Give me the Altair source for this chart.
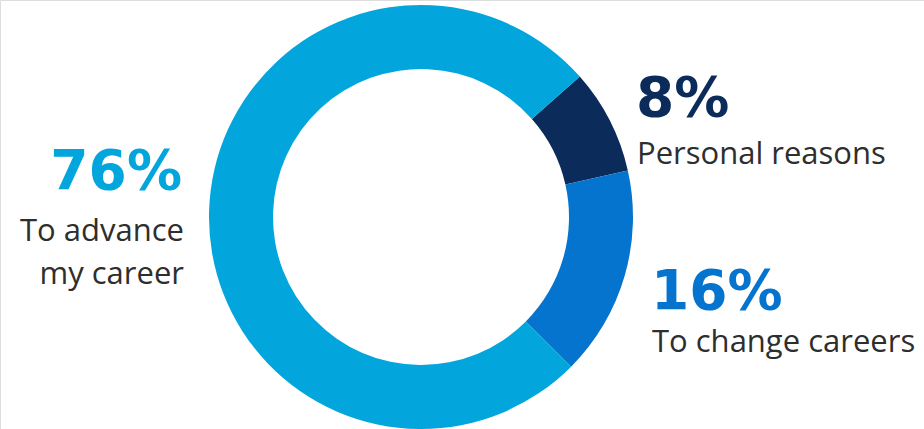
import altair as alt
import pandas as pd
import math

# ---- data ----
categories = ["Personal reasons", "To change careers", "To advance my career"]
values = [8, 16, 76]
pct_labels = ["8%", "16%", "76%"]
desc_labels = ["Personal reasons", "To change careers", "To advance\nmy career"]
colors = ["#0B2B5B", "#0574CE", "#02A6DD"]

# ---- layout (positions/styles, not data) ----
W, H = 924, 429
CX, CY = 421, 217
R_OUT, R_IN = 212, 148
START = math.radians(48.5)
pct_pos = [(636, 116, "left"), (651, 309, "left"), (182, 189, "right")]
desc_pos = [(637, 164, "left"), (652, 352, "left"), (184, 241, "right")]

df = pd.DataFrame({"category": categories, "value": values, "order": [0, 1, 2]})

ring = alt.Chart(df).mark_arc(
    outerRadius=R_OUT, innerRadius=R_IN, stroke=None
).encode(
    theta=alt.Theta("value:Q", stack=True,
                    scale=alt.Scale(range=[START, START + 2 * math.pi])),
    order=alt.Order("order:Q"),
    color=alt.Color("category:N",
                    scale=alt.Scale(domain=categories, range=colors),
                    legend=None),
    x=alt.value(CX),
    y=alt.value(CY),
)

layers = [ring]
for i in range(3):
    px, py, al = pct_pos[i]
    layers.append(
        alt.Chart(pd.DataFrame({"t": [pct_labels[i]]})).mark_text(
            font="DejaVu Sans", fontWeight="bold", fontSize=55,
            color=colors[i], align=al, baseline="alphabetic"
        ).encode(text="t:N", x=alt.value(px), y=alt.value(py))
    )
    dx, dy, al2 = desc_pos[i]
    layers.append(
        alt.Chart(pd.DataFrame({"t": [desc_labels[i]]})).mark_text(
            font="Open Sans", fontSize=31, color="#2e2e2e",
            align=al2, baseline="alphabetic", lineBreak="\n", lineHeight=43
        ).encode(text="t:N", x=alt.value(dx), y=alt.value(dy))
    )

chart = alt.layer(*layers).properties(
    width=W, height=H, padding=0, autosize=alt.AutoSizeParams(type="none")
).configure_view(stroke=None).configure(background="white")

chart.save("out.html", embed_options={"renderer": "svg", "actions": False})
